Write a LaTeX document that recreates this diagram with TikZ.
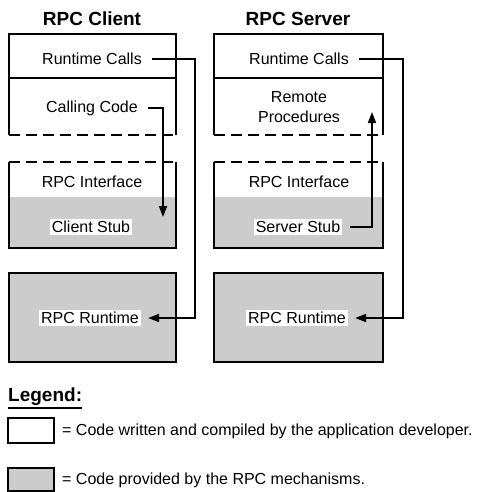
\documentclass[tikz,border=0pt]{standalone}
\usepackage{fontspec}
\setmainfont{Liberation Sans}
\usetikzlibrary{arrows.meta}
\definecolor{stipple}{gray}{0.80}
\tikzset{
  box/.style={line width=2.6pt},
  divider/.style={line width=2pt},
  dashedge/.style={line width=2.6pt, dash pattern=on 11pt off 6pt},
  txt/.style={font=\fontsize{16}{18}\selectfont, inner sep=2pt},
  label/.style={txt, fill=white},
  legtxt/.style={txt, anchor=west},
  title/.style={font=\fontsize{19}{21}\selectfont\bfseries, inner sep=0pt},
  conn/.style={line width=1.6pt, shorten <=8pt},
  arrowtip/.style={-{Triangle[length=11pt,width=8pt]}}
}
\begin{document}
\begin{tikzpicture}[x=1pt,y=-1pt]
\useasboundingbox (0,0) rectangle (486,492);

% ---------- client column ----------
\node[title] (ctitle) at (92,19) {RPC Client};
% application layer
\draw[box] (9,135) -- (9,34) -- (176,34) -- (176,135);
\draw[divider] (9,78) -- (176,78);
\draw[dashedge] (9,135) -- (176,135);
% interface layer
\fill[stipple] (9,197) rectangle (176,248);
\draw[box] (9,162) -- (9,248) -- (176,248) -- (176,162);
\draw[dashedge] (9,162) -- (176,162);
% runtime layer
\draw[box, fill=stipple] (9,273) rectangle (176,362);

\node[txt] (crc) at (92,59) {Runtime Calls};
\node[txt] (ccc) at (92,108) {Calling Code};
\node[txt] (cif) at (92,182) {RPC Interface};
\node[label] (cstub) at (91,227) {Client Stub};
\node[label] (crt) at (90,318) {RPC Runtime};

% ---------- server column ----------
\node[title] (stitle) at (298,19) {RPC Server};
\draw[box] (214,135) -- (214,34) -- (383,34) -- (383,135);
\draw[divider] (214,78) -- (383,78);
\draw[dashedge] (214,135) -- (383,135);
\fill[stipple] (214,197) rectangle (383,248);
\draw[box] (214,162) -- (214,248) -- (383,248) -- (383,162);
\draw[dashedge] (214,162) -- (383,162);
\draw[box, fill=stipple] (214,273) rectangle (383,362);

\node[txt, align=center, font=\fontsize{16}{20}\selectfont] (srp) at (299,107) {Remote\\Procedures};
\node[txt] (src) at (299,59) {Runtime Calls};
\node[txt] (sif) at (299,182) {RPC Interface};
\node[label] (sstub) at (298,227) {Server Stub};
\node[label] (srt) at (297,318) {RPC Runtime};

% ---------- connectors ----------
\coordinate (cbus) at (195,0);
\coordinate (cdown) at (163,0);
\coordinate (sbus) at (403,0);
\coordinate (sup) at (372,0);
\coordinate (cstubtip) at (163,217);
\coordinate (srptip) at (372,112);

\draw[conn, arrowtip, shorten >=7pt]
  (crc.east) -- (crc.east -| cbus) -- (crt.east -| cbus) -- (crt.east);
\draw[conn, arrowtip]
  (ccc.east) -- (ccc.east -| cdown) -- (cstubtip);
\draw[conn, arrowtip]
  (sstub.east) -- (sstub.east -| sup) -- (srptip);
\draw[conn, arrowtip, shorten >=7pt]
  (src.east) -- (src.east -| sbus) -- (srt.east -| sbus) -- (srt.east);

% ---------- legend ----------
\node[title, anchor=base west] (leg) at (8,401) {Legend:};
\draw[line width=1.2pt] (8,408) -- (82,408);
\draw[box] (8,418) rectangle (54,443);
\node[legtxt] (legA) at (60,431) {= Code written and compiled by the application developer.};
\draw[box, fill=stipple] (8,468) rectangle (54,491);
\node[legtxt] (legB) at (60,480) {= Code provided by the RPC mechanisms.};
\end{tikzpicture}
\end{document}
